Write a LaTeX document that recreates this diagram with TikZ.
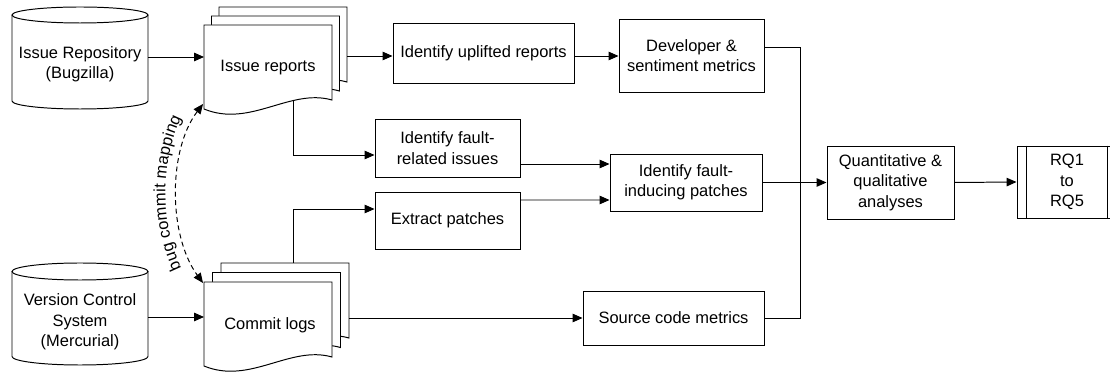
\documentclass[tikz,border=0pt]{standalone}
\usepackage{fontspec}
\setmainfont{Liberation Sans}
\usetikzlibrary{arrows.meta,calc,decorations.text}
\newcommand\labelfont{\fontsize{11.7pt}{14.5pt}\selectfont}
\newcommand\docpage[2]{\begin{scope}[shift={(#1,-#2)}]\draw[fill=white] (0,0) -- (128,0) -- (128,-75) .. controls (86,-63) and (46,-103) .. (0,-84) -- cycle;\end{scope}}
\begin{document}
\begin{tikzpicture}[x=0.025cm, y=0.025cm, line width=0.7pt, font=\labelfont,
  arr/.style={-{Triangle[length=7pt,width=6pt]}},
  pbox/.style n args={2}{draw, align=center, inner sep=0pt, minimum width=#1*0.025cm, minimum height=#2*0.025cm},
  txt/.style={align=center, inner sep=0pt}]
\useasboundingbox (0,0) rectangle (1110,-372);
% cylinders
\draw (12,-15) -- (12,-101) arc (180:360:68 and 8) -- (148,-15);
\draw (80,-15) ellipse (68 and 8);
\node[txt, minimum width=136*0.025cm] (c1) at (80,-64.5) {Issue Repository\\(Bugzilla)};
\draw (12,-271.5) -- (12,-356.5) arc (180:360:68 and 8.5) -- (148,-271.5);
\draw (80,-271.5) ellipse (68 and 8.5);
\node[txt, minimum width=136*0.025cm] (c2) at (80,-322) {Version Control\\System\\(Mercurial)};
% document stacks
\docpage{219}{7}\docpage{211.5}{16}\docpage{204}{25}
\node[txt] (ir) at (268,-68) {Issue reports};
\docpage{221}{263}\docpage{212.5}{272.5}\docpage{204}{282}
\node[txt] (cl) at (270,-325) {Commit logs};
\coordinate (irL) at (204,-57);
\coordinate (irR) at (347,-56);
\coordinate (irB) at (293,-100.3);
\coordinate (clL) at (204,-317);
\coordinate (clR) at (349,-318);
\coordinate (clT) at (293,-263);
\coordinate (irD) at (203,-104);
\coordinate (clD) at (203,-283);
% boxes
\node[pbox={181}{60}] (up) at (483.5,-53) {Identify uplifted reports};
\node[pbox={145}{73}] (dev) at (691.5,-55.5) {Developer \&\\sentiment metrics};
\node[pbox={145}{58}] (fr) at (447.5,-148) {Identify fault-\\related issues};
\node[pbox={145}{57}] (ep) at (447.5,-220.5) {Extract patches};
\node[pbox={152}{57}] (fi) at (686,-182.5) {Identify fault-\\inducing patches};
\node[pbox={181}{54}] (sc) at (673.5,-318) {Source code metrics};
\node[pbox={127}{73}] (qa) at (890.5,-182.5) {Quantitative \&\\qualitative\\analyses};
\node[pbox={100}{72}] (rq) at (1067,-182) {RQ1\\to\\RQ5};
\draw ($(rq.north west)+(10,0)$) -- ($(rq.south west)+(10,0)$);
\draw ($(rq.north east)+(-10,0)$) -- ($(rq.south east)+(-10,0)$);
% connectors
\draw[arr] (c1.east |- irL) -- (irL);
\draw[arr] (c2.east |- clL) -- (clL);
\draw[arr] (irR) -- (irR -| up.west);
\draw[arr] (up.east |- irR) -- (dev.west |- irR);
\draw[arr] (irB) |- ($(fr.west)+(0,-7)$);
\draw[arr] (clT) |- ($(ep.west)+(0,11.5)$);
\draw[arr] ($(fr.east)+(0,-16)$) -- ($(fi.west)+(0,18.5)$);
\draw[arr] ($(ep.east)+(0,20.5)$) -- ($(fi.west)+(0,-17.5)$);
\draw[arr] (clR) -- (clR -| sc.west);
\coordinate (mx) at (800,-183);
\draw ($(dev.east)+(0,8.5)$) -| (mx) |- (sc.east);
\draw[arr] (fi.east) -- (qa.west);
\draw[arr] (qa.east) -- (rq.west);
% dashed mapping
\draw[dashed, dash pattern=on 3.5pt off 2.5pt, {Triangle[length=7pt,width=6pt]}-{Triangle[length=7pt,width=6pt]}] (irD) .. controls (168,-150) and (168,-235) .. (clD);
\path[decorate, decoration={text along path, text={|\labelfont|bug commit mapping}, text align=center, raise=2pt}] (193,-282) .. controls (160,-236) and (160,-150) .. (193,-104);
\end{tikzpicture}
\end{document}
